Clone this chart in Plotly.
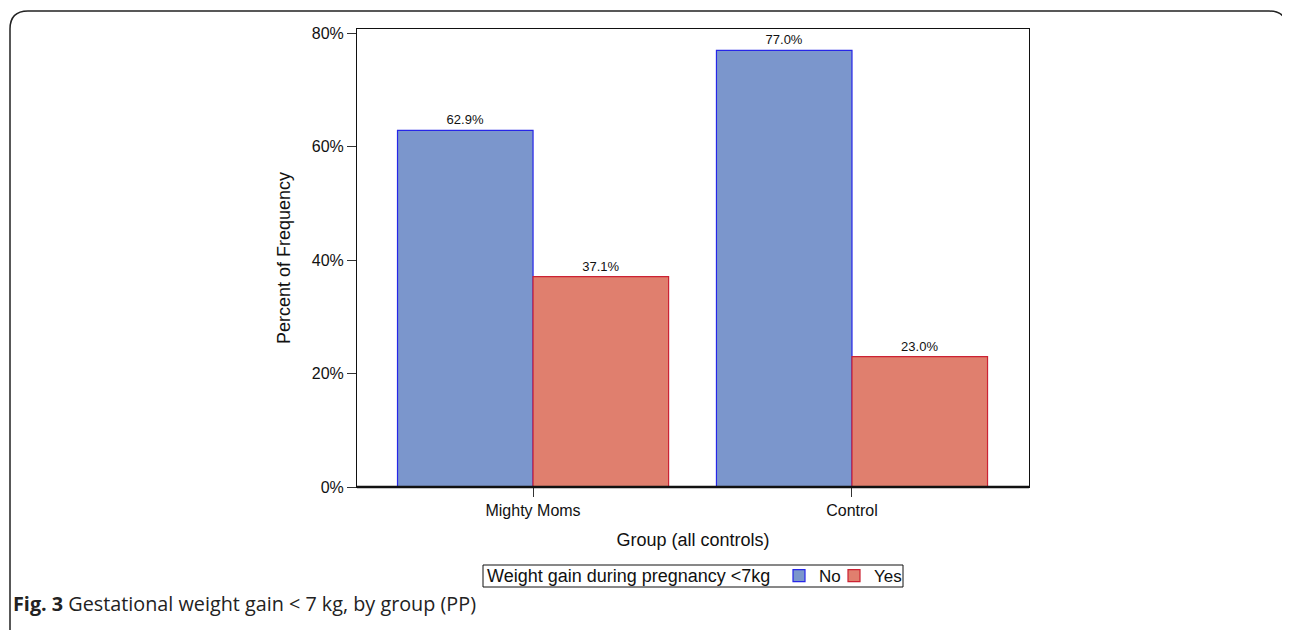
import plotly.graph_objects as go

groups = ["Mighty Moms", "Control"]
no_vals = [62.9, 77.0]
yes_vals = [37.1, 23.0]
no_labels = ["62.9%", "77.0%"]
yes_labels = ["37.1%", "23.0%"]
y_ticks = [0, 20, 40, 60, 80]
y_tick_labels = ["0%", "20%", "40%", "60%", "80%"]
legend_title = "Weight gain during pregnancy <7kg"

OFF = 8  # page body margin
W, H = 1290 - OFF, 630 - OFF
L, R, T, B = 357 - OFF, 1029 - OFF, 29 - OFF, 487 - OFF
pw, ph = R - L, B - T

def px(x):
    return (x - OFF - L) / pw

def py(y):
    return (B - (y - OFF)) / ph

fig = go.Figure()
fig.add_trace(go.Bar(
    x=groups, y=no_vals, name="No", text=no_labels, textposition="outside",
    marker=dict(color="#7b96cc", line=dict(color="#2626e8", width=1.2)),
    textfont=dict(family="Liberation Sans", size=13, color="#111"),
    cliponaxis=False, legend="legend",
))
fig.add_trace(go.Bar(
    x=groups, y=yes_vals, name="Yes", text=yes_labels, textposition="outside",
    marker=dict(color="#e07f6e", line=dict(color="#cc2233", width=1.2)),
    textfont=dict(family="Liberation Sans", size=13, color="#111"),
    cliponaxis=False, legend="legend2",
))

leg_common = dict(orientation="h", xanchor="left", y=py(576), yanchor="middle",
                  borderwidth=0, bgcolor="rgba(0,0,0,0)", font=dict(size=17),
                  itemwidth=30)

fig.update_layout(
    width=W, height=H,
    margin=dict(l=L, r=W - R, t=T, b=H - B),
    paper_bgcolor="white", plot_bgcolor="white",
    barmode="group", bargap=0.15, bargroupgap=0,
    font=dict(family="Liberation Sans", color="#111"),
    xaxis=dict(
        type="category", range=[-0.552, 1.555],
        showgrid=False, zeroline=False,
        showline=True, linecolor="#111", linewidth=1, mirror=True,
        ticks="outside", ticklen=9, tickcolor="#333",
        tickfont=dict(size=16),
        title=dict(text="Group (all controls)", font=dict(size=18), standoff=15),
    ),
    yaxis=dict(
        range=[0, 80.76], tickvals=y_ticks, ticktext=y_tick_labels,
        showgrid=False, zeroline=False,
        showline=True, linecolor="#111", linewidth=1, mirror=True,
        ticks="outside", ticklen=9, tickcolor="#333",
        tickfont=dict(size=16),
        title=dict(text="Percent of Frequency", font=dict(size=18), standoff=16),
    ),
    legend=dict(x=px(779), **leg_common),
    legend2=dict(x=px(834), **leg_common),
    showlegend=True,
)

# legend title and frame
fig.add_annotation(
    xref="paper", yref="paper", x=px(485), y=py(576), xanchor="left", yanchor="middle",
    text=legend_title, showarrow=False, font=dict(family="Liberation Sans", size=18, color="#111"),
)
fig.add_shape(type="rect", xref="paper", yref="paper",
              x0=px(483), x1=px(903), y0=py(587), y1=py(565),
              line=dict(color="#111", width=1))

# thick bottom axis line
fig.add_shape(type="line", xref="paper", yref="paper", x0=0, x1=1, y0=0, y1=0,
              line=dict(color="#111", width=2.5))

# outer rounded frame
x0, x1, y0, r = 10, 1287, 11, 18
ybot = 700
path = (f"M {px(x0)},{py(ybot)} L {px(x0)},{py(y0 + r)} "
        f"Q {px(x0)},{py(y0)} {px(x0 + r)},{py(y0)} "
        f"L {px(x1 - r)},{py(y0)} Q {px(x1)},{py(y0)} {px(x1)},{py(y0 + r)} "
        f"L {px(x1)},{py(ybot)}")
fig.add_shape(type="path", xref="paper", yref="paper", path=path,
              line=dict(color="#222", width=1.5))

fig.add_annotation(
    xref="paper", yref="paper", x=px(11), y=py(604), xanchor="left", yanchor="middle",
    text="<b>Fig. 3</b> Gestational weight gain < 7 kg, by group (PP)",
    showarrow=False, font=dict(family="Open Sans", size=19.8, color="#222"),
)

fig.write_html("out.html")
